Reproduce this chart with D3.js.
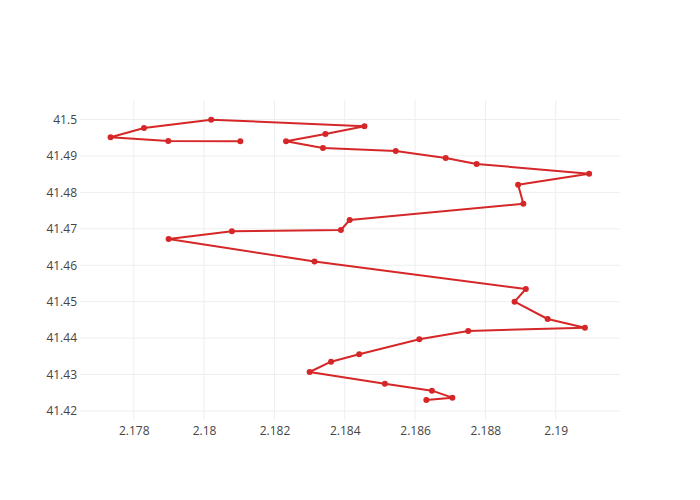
<!DOCTYPE html>
<html>
<head>
<meta charset="utf-8">
<script src="https://cdn.jsdelivr.net/npm/d3@7"></script>
<style>
  html, body { margin: 0; padding: 0; background: #fff; }
  svg { display: block; font-family: "Open Sans", sans-serif; }
</style>
</head>
<body>
<svg id="chart" width="700" height="500"></svg>
<script>
// Data
const xValues = [2.18103, 2.17898, 2.17734, 2.17829, 2.18020, 2.18456, 2.18345, 2.18233, 2.18338, 2.18545,
                 2.18687, 2.18775, 2.19095, 2.18893, 2.18908, 2.18414, 2.18389, 2.18079, 2.17899, 2.18314,
                 2.18915, 2.18883, 2.18977, 2.19083, 2.18751, 2.18612, 2.18441, 2.18361, 2.18300, 2.18514,
                 2.18648, 2.18706, 2.18632];
const yValues = [41.49402, 41.49410, 41.49512, 41.49767, 41.49995, 41.49813, 41.49602, 41.49402, 41.49218, 41.49136,
                 41.48943, 41.48779, 41.48513, 41.48211, 41.47689, 41.47242, 41.46968, 41.46932, 41.46721, 41.46103,
                 41.45349, 41.45000, 41.44525, 41.44286, 41.44196, 41.43968, 41.43557, 41.43353, 41.43071, 41.42750,
                 41.42558, 41.42366, 41.42302];
const xTicks = [2.178, 2.18, 2.182, 2.184, 2.186, 2.188, 2.19];
const yTicks = [41.42, 41.43, 41.44, 41.45, 41.46, 41.47, 41.48, 41.49, 41.5];

const points = xValues.map((x, i) => ({x, y: yValues[i]}));

const svg = d3.select("#chart");
const margin = {left: 80, right: 80, top: 100, bottom: 80};
const W = 700, H = 500;

const x = d3.scaleLinear().domain([2.17647, 2.191828]).range([margin.left, W - margin.right]);
const y = d3.scaleLinear().domain([41.41753, 41.50535]).range([H - margin.bottom, margin.top]);

const color = "#d62728";

// Gridlines
const g = svg.append("g");
g.selectAll("line.xg").data(xTicks).join("line")
  .attr("x1", d => x(d)).attr("x2", d => x(d))
  .attr("y1", margin.top).attr("y2", H - margin.bottom)
  .attr("stroke", "#eee").attr("stroke-width", 1);
g.selectAll("line.yg").data(yTicks).join("line")
  .attr("y1", d => y(d)).attr("y2", d => y(d))
  .attr("x1", margin.left).attr("x2", W - margin.right)
  .attr("stroke", "#eee").attr("stroke-width", 1);

// Axes (labels only)
const xAxis = svg.append("g").attr("transform", `translate(0,${H - margin.bottom})`)
  .call(d3.axisBottom(x).tickValues(xTicks).tickSize(0).tickPadding(6).tickFormat(d3.format("")));
const yAxis = svg.append("g").attr("transform", `translate(${margin.left},0)`)
  .call(d3.axisLeft(y).tickValues(yTicks).tickSize(0).tickPadding(3).tickFormat(d3.format("")));
[xAxis, yAxis].forEach(a => {
  a.select(".domain").remove();
  a.selectAll("text").attr("fill", "#444").style("font-size", "12px").style("font-family", '"Open Sans", sans-serif');
});

// Line
const line = d3.line().x(d => x(d.x)).y(d => y(d.y));
svg.append("path").datum(points)
  .attr("d", line).attr("fill", "none")
  .attr("stroke", color).attr("stroke-width", 2).attr("stroke-linejoin", "round");

// Markers
svg.append("g").selectAll("circle").data(points).join("circle")
  .attr("cx", d => x(d.x)).attr("cy", d => y(d.y)).attr("r", 3)
  .attr("fill", color);
</script>
</body>
</html>
